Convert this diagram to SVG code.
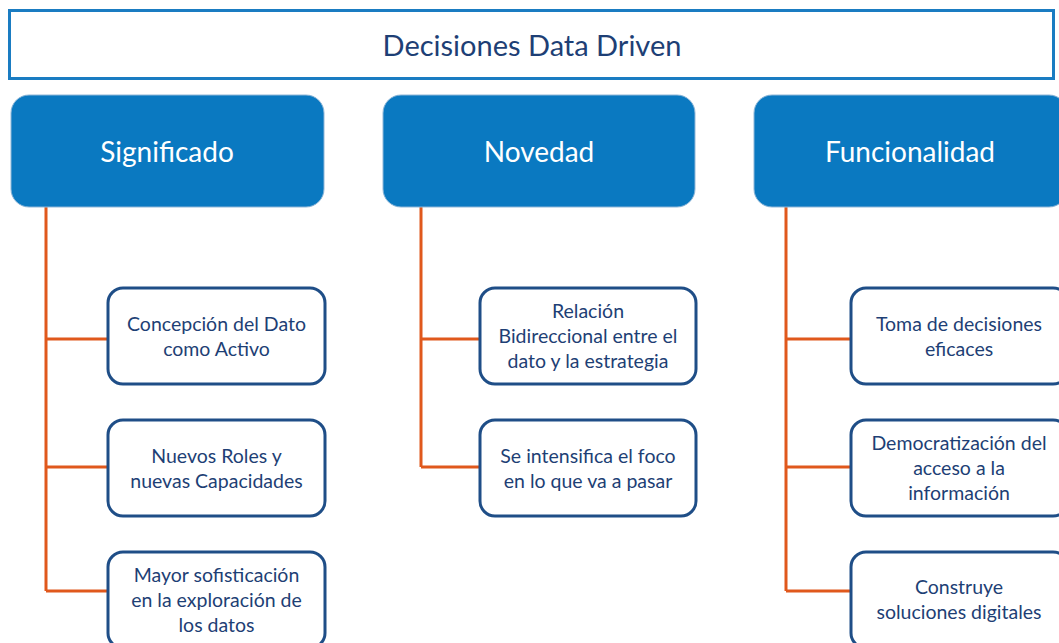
<svg xmlns="http://www.w3.org/2000/svg" width="1059" height="643" viewBox="0 0 1059 643">
<style>
.title{fill:#fff;stroke:#1A7CC2;stroke-width:3}
.ttxt{font-family:Lato,"Open Sans",sans-serif;font-size:29px;fill:#1E3F75;text-anchor:middle}
.head{fill:#0A79C1;stroke:#8FB7D8;stroke-width:1}
.htxt{font-family:Lato,"Open Sans",sans-serif;font-size:28px;fill:#fff;text-anchor:middle}
.child{fill:#fff;stroke:#1F4E87;stroke-width:3}
.ctxt{font-family:Lato,"Open Sans",sans-serif;font-size:19.5px;fill:#1E3F75;text-anchor:middle}
.conn{fill:none;stroke:#E0581C;stroke-width:3}
</style>
<rect width="1059" height="643" fill="#fff"/>
<g id="title"><rect class="title" x="9.5" y="10.5" width="1044" height="68"/><text class="ttxt" x="532" y="56">Decisiones Data Driven</text></g>
<g id="connectors">
<path class="conn" d="M46 207V591M46 339H108M46 467H108M46 591H108"/>
<path class="conn" d="M421 207V467M421 339H480M421 467H480"/>
<path class="conn" d="M786 207V591M786 339H851M786 467H851M786 591H851"/>
</g>
<g id="significado"><rect class="head" x="11" y="95" width="313" height="112" rx="18"/><text class="htxt" x="167" y="162">Significado</text></g>
<g id="novedad"><rect class="head" x="383" y="95" width="312" height="112" rx="18"/><text class="htxt" x="539" y="162">Novedad</text></g>
<g id="funcionalidad"><rect class="head" x="754" y="95" width="313" height="112" rx="18"/><text class="htxt" x="910" y="162">Funcionalidad</text></g>
<g id="s1"><rect class="child" x="108" y="288" width="217" height="96" rx="15"/><text class="ctxt" x="216.5" y="331">Concepción del Dato</text><text class="ctxt" x="216.5" y="356">como Activo</text></g>
<g id="s2"><rect class="child" x="108" y="420" width="217" height="96" rx="15"/><text class="ctxt" x="216.5" y="463">Nuevos Roles y</text><text class="ctxt" x="216.5" y="488">nuevas Capacidades</text></g>
<g id="s3"><rect class="child" x="108" y="552" width="217" height="96" rx="15"/><text class="ctxt" x="216.5" y="582">Mayor sofisticación</text><text class="ctxt" x="216.5" y="607">en la exploración de</text><text class="ctxt" x="216.5" y="632">los datos</text></g>
<g id="n1"><rect class="child" x="480" y="288" width="216" height="96" rx="15"/><text class="ctxt" x="588" y="318">Relación</text><text class="ctxt" x="588" y="343">Bidireccional entre el</text><text class="ctxt" x="588" y="368">dato y la estrategia</text></g>
<g id="n2"><rect class="child" x="480" y="420" width="216" height="96" rx="15"/><text class="ctxt" x="588" y="463">Se intensifica el foco</text><text class="ctxt" x="588" y="488">en lo que va a pasar</text></g>
<g id="f1"><rect class="child" x="851" y="288" width="217" height="96" rx="15"/><text class="ctxt" x="959" y="331">Toma de decisiones</text><text class="ctxt" x="959" y="356">eficaces</text></g>
<g id="f2"><rect class="child" x="851" y="420" width="217" height="96" rx="15"/><text class="ctxt" x="959" y="450">Democratización del</text><text class="ctxt" x="959" y="475">acceso a la</text><text class="ctxt" x="959" y="500">información</text></g>
<g id="f3"><rect class="child" x="851" y="552" width="217" height="96" rx="15"/><text class="ctxt" x="959" y="594">Construye</text><text class="ctxt" x="959" y="619">soluciones digitales</text></g>
</svg>
